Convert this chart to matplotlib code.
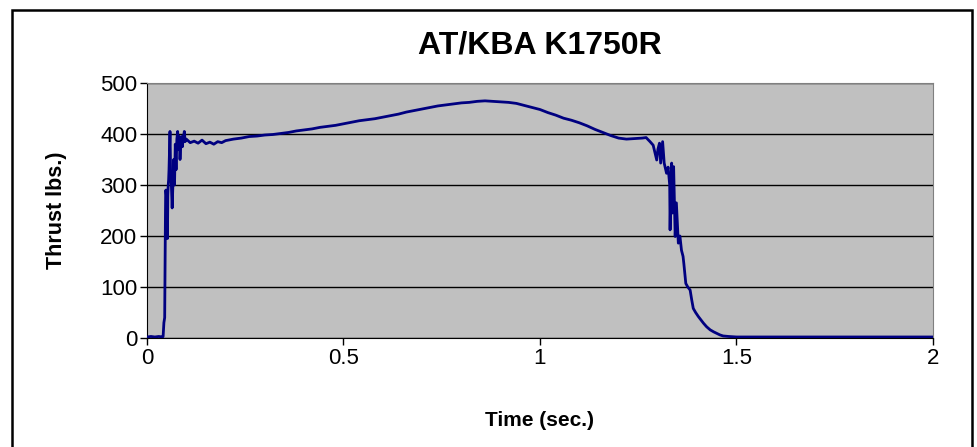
import matplotlib.pyplot as plt
from matplotlib.patches import Rectangle

plt.rcParams['font.family'] = ['Liberation Sans', 'DejaVu Sans']

# thrust curve, time in sec, thrust in lbs
time_s = [
    0.000, 0.010, 0.020, 0.030, 0.040, 0.041, 0.043, 0.045, 0.047, 0.048,
    0.049, 0.050, 0.051, 0.052, 0.053, 0.054, 0.055, 0.056, 0.0585, 0.060,
    0.062, 0.064, 0.066, 0.068, 0.070, 0.072, 0.074, 0.076, 0.078, 0.080,
    0.082, 0.084, 0.086, 0.088, 0.090, 0.092, 0.095, 0.097, 0.100, 0.110,
    0.120, 0.130, 0.140, 0.150, 0.160, 0.170, 0.180, 0.190, 0.200, 0.220,
    0.240, 0.260, 0.280, 0.300, 0.320, 0.340, 0.360, 0.380, 0.400, 0.420,
    0.440, 0.460, 0.480, 0.500, 0.520, 0.540, 0.560, 0.580, 0.600, 0.620,
    0.640, 0.660, 0.680, 0.700, 0.720, 0.740, 0.760, 0.780, 0.800, 0.820,
    0.840, 0.860, 0.880, 0.900, 0.920, 0.940, 0.960, 0.980, 1.000, 1.020,
    1.040, 1.060, 1.080, 1.100, 1.120, 1.140, 1.160, 1.180, 1.200, 1.220,
    1.240, 1.260, 1.270, 1.280, 1.288, 1.297, 1.300, 1.304, 1.307, 1.312,
    1.316, 1.320, 1.322, 1.326, 1.330, 1.331, 1.333, 1.335, 1.337, 1.340,
    1.344, 1.347, 1.352, 1.356, 1.360, 1.364, 1.366, 1.371, 1.376, 1.382,
    1.386, 1.390, 1.396, 1.403, 1.410, 1.416, 1.424, 1.433, 1.442, 1.450,
    1.458, 1.466, 1.480, 1.500, 1.600, 1.700, 1.800, 1.900, 2.000,
]
thrust_lbs = [
    2, 3, 2, 3, 2, 3, 30, 40, 250, 290,
    280, 200, 290, 195, 280, 300, 310, 330, 405, 330,
    300, 255, 300, 350, 300, 380, 330, 390, 405, 370,
    395, 350, 380, 395, 375, 390, 405, 385, 390, 383,
    386, 382, 388, 381, 384, 380, 385, 383, 387, 390,
    392, 395, 396, 398, 399, 401, 403, 406, 408, 410,
    413, 415, 417, 420, 423, 426, 428, 430, 433, 436,
    439, 443, 446, 449, 452, 455, 457, 459, 461, 462,
    464, 465, 464, 463, 462, 460, 456, 452, 448, 442,
    437, 431, 427, 422, 416, 409, 403, 397, 392, 390,
    391, 392, 393, 385, 378, 349, 370, 382, 343, 385,
    343, 330, 323, 335, 300, 212, 300, 343, 245, 336,
    199, 265, 186, 200, 172, 160, 146, 107, 100, 94,
    75, 58, 50, 42, 35, 29, 22, 16, 12, 9,
    6, 4, 3, 2, 2, 2, 2, 2, 2,
]

x_ticks = [0, 0.5, 1, 1.5, 2]
x_tick_labels = ['0', '0.5', '1', '1.5', '2']
y_ticks = [0, 100, 200, 300, 400, 500]

fig = plt.figure(figsize=(9.78, 4.47), dpi=100)
ax = fig.add_axes([147 / 978, 1 - 338 / 447, 786 / 978, 255 / 447])
ax.set_facecolor('#c0c0c0')

ax.plot(time_s, thrust_lbs, color='#000080', lw=2, zorder=3)

ax.set_xlim(0, 2)
ax.set_ylim(0, 500)
ax.set_xticks(x_ticks, x_tick_labels)
ax.set_yticks(y_ticks)
ax.yaxis.grid(True, color='black', lw=1)
ax.set_axisbelow(True)
ax.tick_params(direction='out', length=5, width=1, labelsize=16, pad=2)

for s in ['left', 'bottom']:
    ax.spines[s].set_color('black')
for s in ['top', 'right']:
    ax.spines[s].set_color('#808080')

ax.set_xlabel('Time (sec.)', fontsize=15, fontweight='bold', va='center')
ax.set_ylabel('Thrust lbs.)', fontsize=15.5, fontweight='bold', va='center')
ax.xaxis.set_label_coords(0.5, (338 - 421) / 255)
ax.yaxis.set_label_coords((57 - 147) / 786, 0.5)
ax.text(0.5, (338 - 45) / 255, 'AT/KBA K1750R', transform=ax.transAxes,
        ha='center', va='center', fontsize=23, fontweight='bold')

# outer chart border, runs off the bottom edge like the original
fig.patches.append(Rectangle((12 / 978, -0.05), 960 / 978, 1 - 10 / 447 + 0.05,
                             transform=fig.transFigure, fill=False,
                             ec='black', lw=1.8))

fig.savefig('out.png', dpi=100)
